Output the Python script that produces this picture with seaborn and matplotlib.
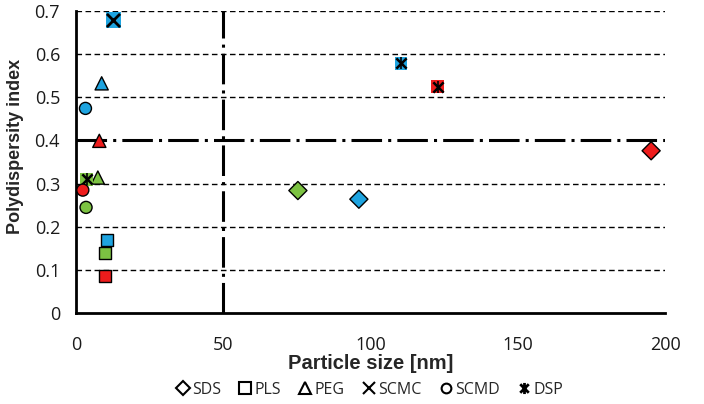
import matplotlib
matplotlib.use("Agg")
import matplotlib.pyplot as plt
import pandas as pd
import seaborn as sns
from matplotlib.lines import Line2D
from matplotlib.path import Path

# Particle size [nm] and polydispersity index per surfactant
# colour of each point = formulation (blue / green / red)
sds_x = [96.0, 75.3, 195.2]
sds_y = [0.264, 0.284, 0.376]
sds_c = ["blue", "green", "red"]

pls_x = [10.5, 9.7, 9.9]
pls_y = [0.170, 0.139, 0.086]
pls_c = ["blue", "green", "red"]

peg_x = [8.7, 7.4, 7.9]
peg_y = [0.532, 0.314, 0.399]
peg_c = ["blue", "green", "red"]

scmc_x = [12.7]
scmc_y = [0.678]
scmc_c = ["blue"]

scmd_x = [3.2, 3.4, 2.3]
scmd_y = [0.474, 0.245, 0.285]
scmd_c = ["blue", "green", "red"]

dsp_x = [110.3, 3.6, 122.7]
dsp_y = [0.578, 0.310, 0.524]
dsp_c = ["blue", "green", "red"]

series_names = ["SDS", "PLS", "PEG", "SCMC", "SCMD", "DSP"]
x_ticks = [0, 50, 100, 150, 200]
y_ticks = [0, 0.1, 0.2, 0.3, 0.4, 0.5, 0.6, 0.7]

palette = {"blue": "#1ea4e0", "green": "#7cc242", "red": "#ee1c1c"}

# asterisk marker like excel's "*" (an x with a vertical bar)
star_path = Path(
    [(-1, -1), (1, 1), (-1, 1), (1, -1), (0, -1.3), (0, 1.3)],
    [Path.MOVETO, Path.LINETO, Path.MOVETO, Path.LINETO, Path.MOVETO, Path.LINETO],
)


def frame(x, y, c):
    return pd.DataFrame({"x": x, "y": y, "c": c})


sns.set_style("white")
plt.rcParams["font.family"] = ["Open Sans", "DejaVu Sans"]

fig = plt.figure(figsize=(7.04, 4.04), dpi=100)
ax = fig.add_axes([0.108, 0.2245, 0.837, 0.749])

# reference lines
for yv in y_ticks[1:]:
    if yv == 0.4:
        continue
    ax.axhline(yv, color="black", linestyle=(0, (4, 2.5)), linewidth=1.0, zorder=1)
dashdot = (0, (10, 2, 1, 2))
ax.axhline(0.4, color="black", linestyle=dashdot, linewidth=2.2, zorder=1)
ax.axvline(50, color="black", linestyle=dashdot, linewidth=2.2, zorder=1)

common = dict(x="x", y="y", hue="c", palette=palette, legend=False, ax=ax,
              zorder=6, clip_on=False)
over = dict(x="x", y="y", color="black", legend=False, ax=ax, zorder=7, clip_on=False)

sns.scatterplot(data=frame(sds_x, sds_y, sds_c), marker="D", s=85,
                edgecolor="black", linewidth=1.0, **common)
sns.scatterplot(data=frame(pls_x, pls_y, pls_c), marker="s", s=75,
                edgecolor="black", linewidth=1.0, **common)
sns.scatterplot(data=frame(peg_x, peg_y, peg_c), marker="^", s=90,
                edgecolor="black", linewidth=1.0, **common)

# SCMC: filled square with black x
scmc = frame(scmc_x, scmc_y, scmc_c)
sns.scatterplot(data=scmc, marker="s", s=130, edgecolor="none", linewidth=0, **common)
sns.scatterplot(data=scmc, marker="x", s=90, linewidth=2.0, **over)

# DSP: filled square with black asterisk
dsp = frame(dsp_x, dsp_y, dsp_c)
sns.scatterplot(data=dsp, marker="s", s=85, edgecolor="none", linewidth=0, **common)
sns.scatterplot(data=dsp, marker="x", s=55, linewidth=1.8, **over)
sns.scatterplot(data=dsp, marker="|", s=75, linewidth=1.2, **over)

# SCMD circles on top
scmd_kw = dict(common, zorder=8)
sns.scatterplot(data=frame(scmd_x, scmd_y, scmd_c), marker="o", s=75,
                edgecolor="black", linewidth=1.0, **scmd_kw)

ax.set_xlim(0, 200)
ax.set_ylim(0, 0.7)
ax.set_xticks(x_ticks)
ax.set_yticks(y_ticks)
ax.set_xticklabels([str(v) for v in x_ticks])
ax.set_yticklabels(["0"] + [f"{v:.1f}" for v in y_ticks[1:]])

for side in ["top", "right"]:
    ax.spines[side].set_visible(False)
for side in ["left", "bottom"]:
    ax.spines[side].set_linewidth(2.0)
    ax.spines[side].set_color("black")
    ax.spines[side].set_zorder(5)

ax.tick_params(axis="both", direction="inout", length=9, width=2.0,
               color="black", labelsize=13, labelcolor="#1a1a1a")
ax.tick_params(axis="y", pad=7)
ax.tick_params(axis="x", pad=12)

ax.set_xlabel("Particle size [nm]", fontsize=14.5, fontweight="bold",
              family="Liberation Sans", labelpad=0)
ax.set_ylabel("Polydispersity index", fontsize=13, fontweight="bold",
              family="Liberation Sans")
ax.yaxis.set_label_coords(-0.088, 0.55)

handles = [
    Line2D([], [], marker="D", markersize=7, linestyle="", markerfacecolor="none",
           markeredgecolor="black", markeredgewidth=1.5),
    Line2D([], [], marker="s", markersize=8, linestyle="", markerfacecolor="none",
           markeredgecolor="black", markeredgewidth=1.5),
    Line2D([], [], marker="^", markersize=8, linestyle="", markerfacecolor="none",
           markeredgecolor="black", markeredgewidth=1.5),
    Line2D([], [], marker="x", markersize=8, linestyle="", markeredgecolor="black",
           markeredgewidth=1.5),
    Line2D([], [], marker="o", markersize=7, linestyle="", markerfacecolor="none",
           markeredgecolor="black", markeredgewidth=1.5),
    Line2D([], [], marker=star_path, markersize=8, linestyle="", markerfacecolor="none",
           markeredgecolor="black", markeredgewidth=2.0),
]
fig.legend(handles, series_names, loc="center", bbox_to_anchor=(0.524, 0.035),
           ncol=6, frameon=False, fontsize=11.5, handletextpad=0.1,
           columnspacing=1.0, handlelength=1.0)

fig.savefig("out.png", dpi=100)
